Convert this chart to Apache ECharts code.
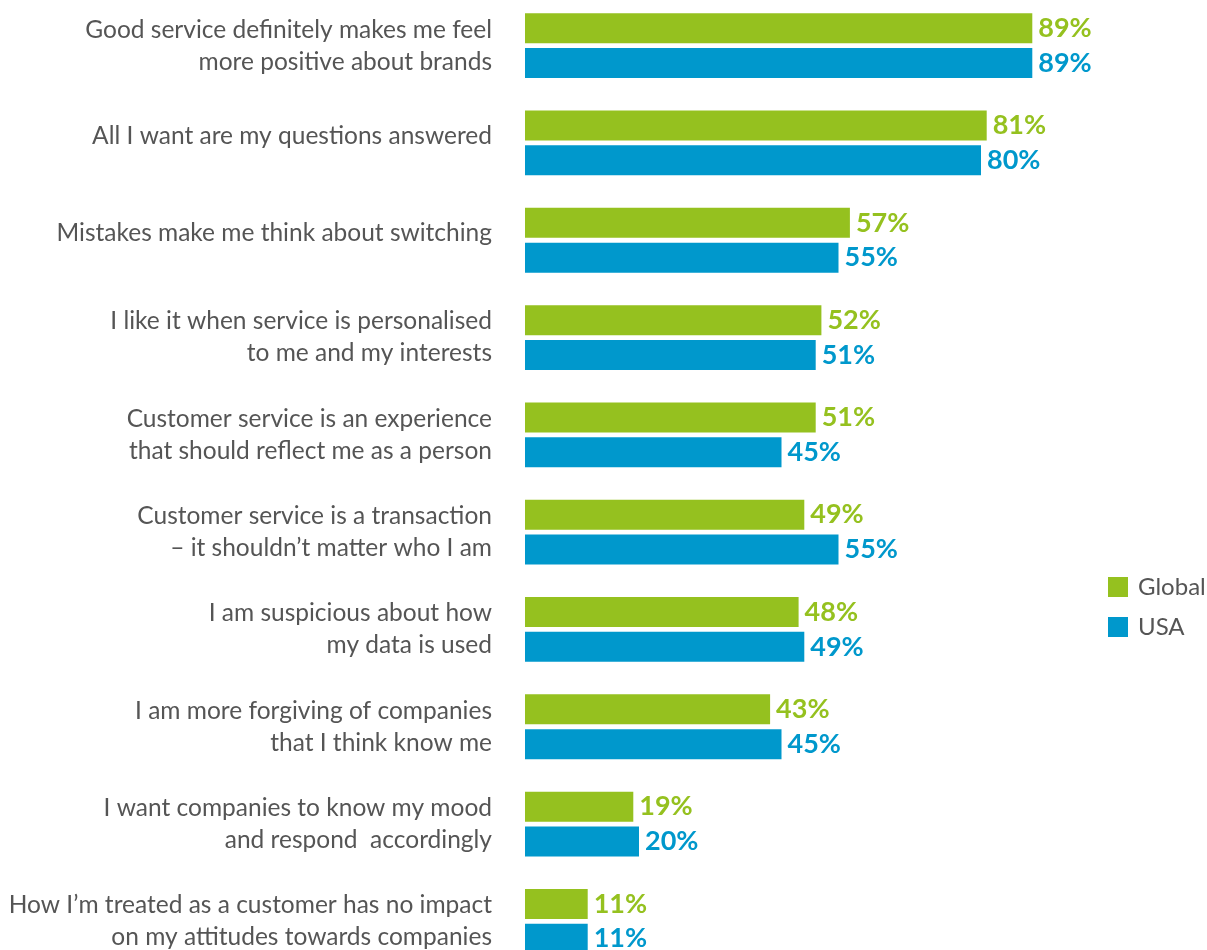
<!DOCTYPE html>
<html>
<head>
<meta charset="utf-8">
<script src="https://cdn.jsdelivr.net/npm/echarts@6/dist/echarts.min.js"></script>
<style>html,body{margin:0;padding:0;background:#fff}#c{width:1207px;height:950px}</style>
</head>
<body>
<div id="c"></div>
<script>
const categories = [
  "Good service definitely makes me feel\nmore positive about brands",
  "All I want are my questions answered",
  "Mistakes make me think about switching",
  "I like it when service is personalised\nto me and my interests",
  "Customer service is an experience\nthat should reflect me as a person",
  "Customer service is a transaction\n– it shouldn’t matter who I am",
  "I am suspicious about how\nmy data is used",
  "I am more forgiving of companies\nthat I think know me",
  "I want companies to know my mood\nand respond  accordingly",
  "How I’m treated as a customer has no impact\non my attitudes towards companies"
];
const seriesNames = ["Global", "USA"];
const globalValues = [89, 81, 57, 52, 51, 49, 48, 43, 19, 11];
const usaValues = [89, 80, 55, 51, 45, 55, 49, 45, 20, 11];
const colors = ["#95c11f", "#0098cc"];

const chart = echarts.init(document.getElementById('c'), null, {renderer: 'canvas'});
const font = 'Lato, "Noto Sans", sans-serif';
function barSeries(name, data, color) {
  return {
    name: name, type: 'bar', data: data,
    barWidth: 30, barGap: '16%',
    itemStyle: {color: color},
    label: {show: true, position: 'right', distance: 6, formatter: '{c}%',
      color: color, fontFamily: font, fontWeight: 'bold', fontSize: 27},
    emphasis: {disabled: true}
  };
}
chart.setOption({
  animation: false,
  textStyle: {fontFamily: font},
  legend: {
    orient: 'vertical', left: 1108, top: 575, padding: 0,
    itemWidth: 20, itemHeight: 20, itemGap: 16,
    icon: 'rect',
    data: seriesNames,
    textStyle: {color: '#555', fontSize: 24, fontFamily: font, padding: [0, 0, 0, 5]}
  },
  grid: {left: 525, width: 570, top: -3, height: 973, containLabel: false, outerBoundsMode: 'none'},
  xAxis: {type: 'value', min: 0, max: 100, show: false},
  yAxis: {
    type: 'category', data: categories, inverse: true,
    axisLine: {show: false}, axisTick: {show: false}, splitLine: {show: false},
    axisLabel: {
      margin: 33, color: '#555', fontSize: 24.5, fontFamily: font, lineHeight: 32, align: 'right',
      formatter: v => v.indexOf('\n') >= 0 ? v : '{s|' + v + '}',
      rich: {s: {padding: [0, 0, 14, 0], color: '#555', fontSize: 24.5, fontFamily: font}}
    }
  },
  series: [barSeries(seriesNames[0], globalValues, colors[0]), barSeries(seriesNames[1], usaValues, colors[1])]
});
</script>
</body>
</html>
